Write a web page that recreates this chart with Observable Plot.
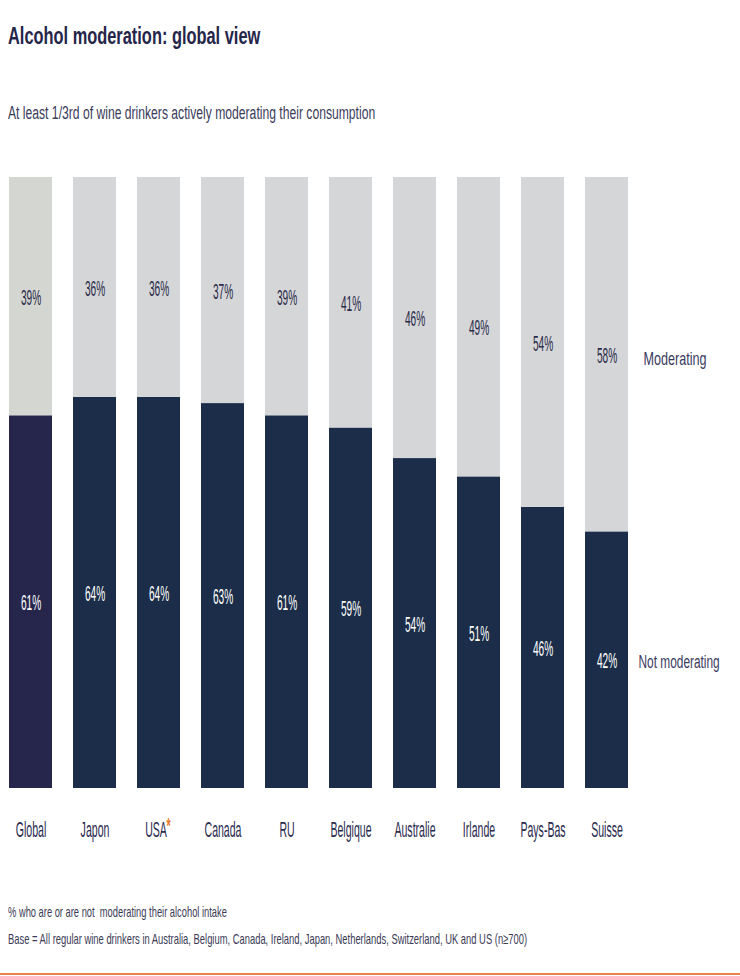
<!DOCTYPE html>
<html><head><meta charset="utf-8">
<script src="https://cdn.jsdelivr.net/npm/d3@7"></script>
<script src="https://cdn.jsdelivr.net/npm/@observablehq/plot@0.6"></script>
<style>
body{margin:0;background:#fff;font-family:"Liberation Sans",Arial,sans-serif;}
#page{position:relative;width:740px;height:976px;overflow:hidden;background:#fff;}
.sq{position:absolute;left:8px;white-space:nowrap;transform-origin:0 0;display:inline-block;}
#title{top:24px;font-size:24px;line-height:24px;font-weight:bold;color:#25254a;}
#subtitle{top:104px;font-size:18px;line-height:18px;color:#3b3b5c;}
#note1{top:904px;font-size:15px;line-height:15px;color:#3a3a55;}
#note2{top:931px;font-size:15px;line-height:15px;color:#3a3a55;}
#chart{position:absolute;left:0;top:150px;}
#rule{position:absolute;left:0;top:973px;width:740px;height:2px;background:#e8824a;}
</style></head><body><div id="page">
<div id="title" class="sq">Alcohol moderation: global view</div>
<div id="subtitle" class="sq">At least 1/3rd of wine drinkers actively moderating their consumption</div>
<div id="chart"></div>
<div id="note1" class="sq">% who are or are not&nbsp; moderating their alcohol intake</div>
<div id="note2" class="sq">Base = All regular wine drinkers in Australia, Belgium, Canada, Ireland, Japan, Netherlands, Switzerland, UK and US (n≥700)</div>
<div id="rule"></div>
</div>
<script>
const countries = ["Global","Japon","USA","Canada","RU","Belgique","Australie","Irlande","Pays-Bas","Suisse"];
const notModerating = [61,64,64,63,61,59,54,51,46,42];
const moderating = [39,36,36,37,39,41,46,49,54,58];
const seriesNames = ["Not moderating","Moderating"];

const rows = [];
countries.forEach((c,i)=>{
  rows.push({country:c, type:seriesNames[0], value:notModerating[i]});
  rows.push({country:c, type:seriesNames[1], value:moderating[i]});
});
const fillFn = d => d.country==="Global"
  ? (d.type==="Moderating" ? "#d4d6d2" : "#26264d")
  : (d.type==="Moderating" ? "#d5d6d8" : "#1b2d48");
const others = countries.filter(c=>c!=="USA");
const last = countries.length - 1;
// series labels beside the last bar, at the middle of each segment
const sideLabels = [
  {country:countries[last], type:seriesNames[1], mid:notModerating[last] + moderating[last]/2},
  {country:countries[last], type:seriesNames[0], mid:notModerating[last]/2}
];

const chart = Plot.plot({
  width:740, height:700, marginTop:27, marginBottom:62, marginLeft:8, marginRight:112,
  x:{domain:countries, paddingInner:0.33, paddingOuter:0, axis:null},
  y:{domain:[0,100], axis:null},
  color:{type:"identity"},
  style:{fontFamily:"'Liberation Sans',Arial,sans-serif", background:"transparent"},
  marks:[
    Plot.barY(rows, {x:"country", y:"value", z:"type", fill:fillFn}),
    Plot.text(rows, Plot.stackY({x:"country", y:"value", z:"type", text:d=>d.value+"%",
      fill:d=>d.type==="Moderating" ? "#2a2a48" : "#ffffff", fontSize:22, dy:1, className:"pct"})),
    Plot.text(sideLabels.slice(0,1), {x:"country", y:"mid", text:"type",
      textAnchor:"start", dx:36.5, dy:5, fill:"#3a3a60", fontSize:18, className:"side"}),
    Plot.text(sideLabels.slice(1), {x:"country", y:"mid", text:"type",
      textAnchor:"start", dx:31.5, dy:2, fill:"#3a3a60", fontSize:18, className:"side2"}),
    Plot.text(others, {x:d=>d, text:d=>d, frameAnchor:"bottom", dy:48, fill:"#2b2b50", fontSize:22, className:"xlab"}),
    Plot.text(["USA"], {x:d=>d, text:d=>d, frameAnchor:"bottom", dy:48, dx:-3, fill:"#2b2b50", fontSize:22, className:"xlab"}),
    Plot.text(["USA"], {x:d=>d, text:()=>"*", frameAnchor:"bottom", dy:44, dx:9.5, fill:"#e8772e", fontSize:22, fontWeight:"bold", className:"xlab"})
  ]
});
document.getElementById("chart").appendChild(chart);

// horizontally condense text glyphs around each text's own anchor point
function squish(sel, f){
  chart.querySelectorAll(sel).forEach(t=>{
    const x = +(t.getAttribute("x") || 0);
    const tr = t.getAttribute("transform") || "";
    t.setAttribute("transform", `${tr} translate(${x},0) scale(${f},1) translate(${-x},0)`.trim());
  });
}
squish("g.pct text", 0.46);
squish("g.xlab text", 0.48);
squish("g.side text", 0.7);
squish("g.side2 text", 0.66);

function fit(id, w){
  const el = document.getElementById(id);
  el.style.transform = `scaleX(${w/el.offsetWidth})`;
}
fit("title", 252);
fit("subtitle", 367);
fit("note1", 219);
fit("note2", 519);
</script>
</body></html>
